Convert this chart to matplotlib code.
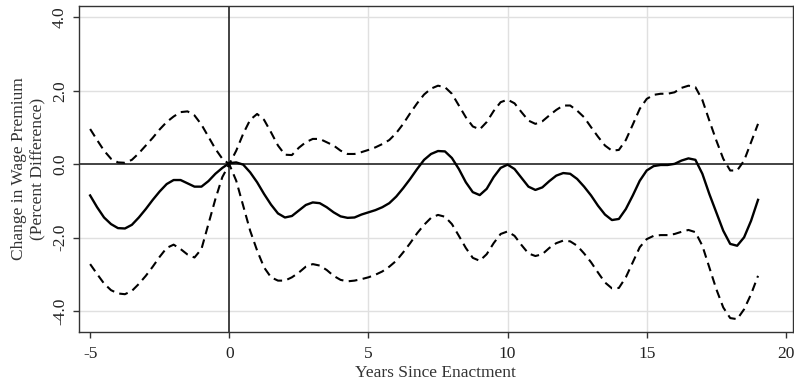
import matplotlib
matplotlib.use('Agg')
import matplotlib.pyplot as plt

# Event-study estimates (quarter-year steps)
years = [-5, -4.75, -4.5, -4.25, -4, -3.75, -3.5, -3.25, -3, -2.75, -2.5,
         -2.25, -2, -1.75, -1.5, -1.25, -1, -0.75, -0.5, -0.25, 0,
         0.25, 0.5, 0.75, 1, 1.25, 1.5, 1.75, 2, 2.25, 2.5,
         2.75, 3, 3.25, 3.5, 3.75, 4, 4.25, 4.5, 4.75, 5,
         5.25, 5.5, 5.75, 6, 6.25, 6.5, 6.75, 7, 7.25, 7.5,
         7.75, 8, 8.25, 8.5, 8.75, 9, 9.25, 9.5, 9.75, 10,
         10.25, 10.5, 10.75, 11, 11.25, 11.5, 11.75, 12, 12.25, 12.5,
         12.75, 13, 13.25, 13.5, 13.75, 14, 14.25, 14.5, 14.75, 15,
         15.25, 15.5, 15.75, 16, 16.25, 16.5, 16.75, 17, 17.25, 17.5,
         17.75, 18, 18.25, 18.5, 18.75, 19]

estimate = [-0.85, -1.17, -1.45, -1.63, -1.74, -1.75, -1.65, -1.45, -1.22, -0.97, -0.74,
            -0.54, -0.43, -0.43, -0.52, -0.61, -0.61, -0.46, -0.26, -0.10, 0.03,
            0.05, -0.01, -0.22, -0.49, -0.81, -1.10, -1.34, -1.45, -1.41, -1.26,
            -1.11, -1.04, -1.06, -1.17, -1.31, -1.42, -1.46, -1.45, -1.37, -1.31,
            -1.25, -1.17, -1.06, -0.88, -0.65, -0.40, -0.13, 0.12, 0.28, 0.36,
            0.35, 0.17, -0.13, -0.49, -0.76, -0.84, -0.67, -0.35, -0.10, -0.01,
            -0.13, -0.37, -0.61, -0.70, -0.63, -0.46, -0.31, -0.24, -0.26, -0.40,
            -0.61, -0.85, -1.13, -1.37, -1.52, -1.49, -1.22, -0.85, -0.45, -0.17,
            -0.05, -0.02, -0.02, 0.01, 0.10, 0.16, 0.12, -0.26, -0.81, -1.31,
            -1.81, -2.17, -2.22, -1.99, -1.54, -0.97]

upper = [0.96, 0.66, 0.37, 0.15, 0.05, 0.04, 0.12, 0.30, 0.51, 0.72, 0.95,
         1.15, 1.30, 1.42, 1.44, 1.33, 1.08, 0.75, 0.42, 0.15, 0.00,
         0.37, 0.83, 1.21, 1.37, 1.21, 0.87, 0.51, 0.26, 0.25, 0.45,
         0.60, 0.69, 0.69, 0.60, 0.51, 0.37, 0.28, 0.28, 0.33, 0.39,
         0.46, 0.55, 0.66, 0.85, 1.10, 1.39, 1.66, 1.90, 2.06, 2.14,
         2.10, 1.92, 1.60, 1.28, 1.03, 0.95, 1.15, 1.45, 1.69, 1.76,
         1.66, 1.42, 1.19, 1.10, 1.17, 1.33, 1.48, 1.60, 1.60, 1.46,
         1.28, 1.01, 0.75, 0.51, 0.37, 0.39, 0.66, 1.08, 1.51, 1.78,
         1.89, 1.92, 1.92, 1.96, 2.08, 2.14, 2.10, 1.75, 1.19, 0.65,
         0.15, -0.17, -0.17, 0.10, 0.60, 1.10]

lower = [-2.72, -2.99, -3.25, -3.43, -3.52, -3.54, -3.45, -3.26, -3.04, -2.79, -2.52,
         -2.28, -2.19, -2.31, -2.46, -2.54, -2.31, -1.63, -0.95, -0.35, 0.00,
         -0.45, -1.13, -1.81, -2.35, -2.81, -3.08, -3.17, -3.17, -3.08, -2.95,
         -2.79, -2.72, -2.76, -2.88, -3.04, -3.15, -3.19, -3.17, -3.13, -3.08,
         -3.01, -2.92, -2.79, -2.63, -2.40, -2.15, -1.88, -1.65, -1.46, -1.38,
         -1.43, -1.63, -1.95, -2.28, -2.55, -2.63, -2.45, -2.15, -1.90, -1.83,
         -1.95, -2.20, -2.43, -2.50, -2.45, -2.28, -2.15, -2.08, -2.10, -2.22,
         -2.43, -2.67, -2.95, -3.22, -3.38, -3.37, -3.08, -2.67, -2.26, -2.04,
         -1.95, -1.93, -1.93, -1.90, -1.84, -1.79, -1.85, -2.22, -2.81, -3.40,
         -3.90, -4.19, -4.22, -3.95, -3.54, -3.04]

plt.rcParams['font.family'] = ['Liberation Serif', 'DejaVu Serif']
plt.rcParams['axes.unicode_minus'] = False

fig = plt.figure(figsize=(7.94, 3.89), dpi=100)
ax = fig.add_axes([0.0995, 0.1465, 0.899, 0.838])

ax.set_xlim(-5.4, 20.25)
ax.set_ylim(-4.57, 4.31)

ax.set_xticks([-5, 0, 5, 10, 15, 20])
ax.set_yticks([-4, -2, 0, 2, 4])
ax.set_yticklabels(['-4.0', '-2.0', '0.0', '2.0', '4.0'], rotation=90, va='center')

# light grid
for gx in [5, 10, 15]:
    ax.axvline(gx, color='#e0e0e0', lw=1.0, zorder=0)
for gy in [-4, -2, 2, 4]:
    ax.axhline(gy, color='#e0e0e0', lw=1.0, zorder=0)

ax.axhline(0, color='#222222', lw=1.2, zorder=1)
ax.axvline(0, color='#222222', lw=1.2, zorder=1)

dash = (0, (4.2, 2.6))
ax.plot(years, upper, color='black', lw=1.5, linestyle=dash, zorder=2)
ax.plot(years, lower, color='black', lw=1.5, linestyle=dash, zorder=2)
ax.plot(years, estimate, color='black', lw=1.7, zorder=3)

for side in ['left', 'bottom', 'top', 'right']:
    ax.spines[side].set_color('#333333')
    ax.spines[side].set_linewidth(1.0)

ax.tick_params(axis='both', direction='out', length=4, width=1, color='#333333',
               labelsize=12.5, labelcolor='#222222')
ax.tick_params(axis='x', pad=6)
ax.tick_params(axis='y', pad=4)

ax.set_xlabel('Years Since Enactment', fontsize=12.5, color='#333333', labelpad=2)
ax.set_ylabel('Change in Wage Premium\n(Percent Difference)', fontsize=12.5,
              color='#333333', labelpad=4, linespacing=1.25)

fig.savefig('out.png', dpi=100)
